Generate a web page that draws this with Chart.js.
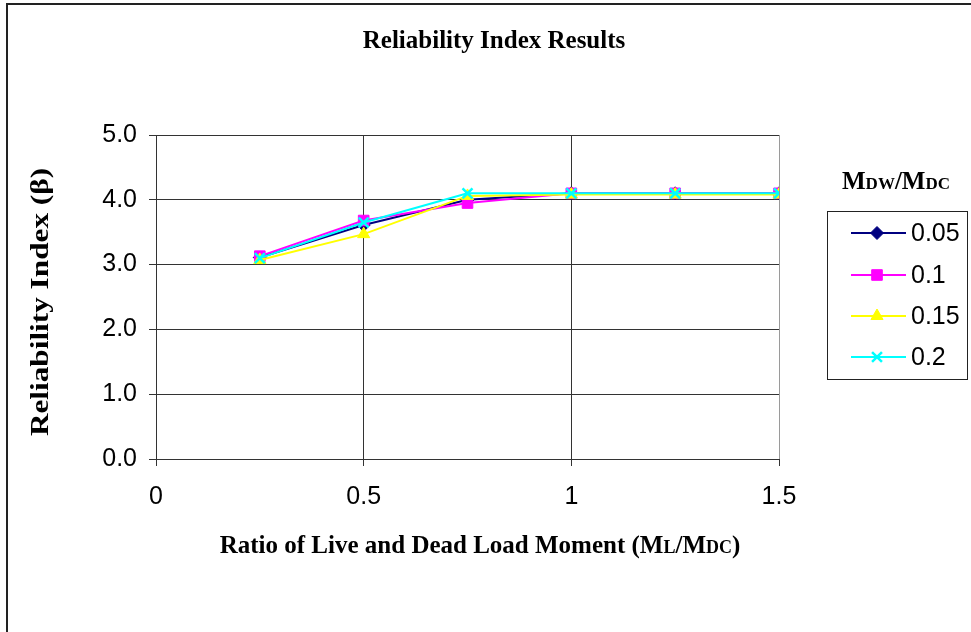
<!DOCTYPE html>
<html>
<head>
<meta charset="utf-8">
<script src="https://cdn.jsdelivr.net/npm/chart.js@4"></script>
<style>
  html, body { margin: 0; padding: 0; background: #fff; }
  canvas { display: block; }
</style>
</head>
<body>
<canvas id="grafico" width="971" height="632"></canvas>
<script>
// data
let ratios = [0.25, 0.5, 0.75, 1, 1.25, 1.5];
let beta005 = [3.11, 3.61, 4.00, 4.10, 4.10, 4.10];
let beta010 = [3.13, 3.68, 3.95, 4.10, 4.10, 4.10];
let beta015 = [3.07, 3.47, 4.06, 4.08, 4.08, 4.08];
let beta020 = [3.10, 3.65, 4.10, 4.10, 4.10, 4.10];
let seriesNames = ['0.05', '0.1', '0.15', '0.2'];
let xTicks = [0, 0.5, 1, 1.5];
let yTicks = [0, 1, 2, 3, 4, 5];

const serif = '"Liberation Serif", "Times New Roman", serif';
const sans = '"Liberation Sans", Arial, sans-serif';
const radios = {rectRot: 6.5, rect: 7.5, triangle: 7, crossRot: 7};

function pares(valores) {
    return ratios.map((r, i) => ({x: r, y: valores[i]}));
}

function serie(nombre, valores, color, estilo, orden) {
    return {
        label: nombre,
        data: pares(valores),
        borderColor: color,
        backgroundColor: color,
        borderWidth: 2,
        pointStyle: estilo,
        pointRadius: radios[estilo],
        pointBorderWidth: estilo === 'crossRot' ? 2.5 : 1,
        tension: 0,
        order: orden   // later series drawn on top, like the original
    };
}

// text with small-caps pieces: [text, size]
function textoMixto(ctx, partes, x, y, align) {
    let total = 0;
    partes.forEach(p => {
        ctx.font = 'bold ' + p[1] + 'px ' + serif;
        total += ctx.measureText(p[0]).width;
    });
    let cx = align === 'center' ? x - total / 2 : x;
    ctx.textAlign = 'left';
    partes.forEach(p => {
        ctx.font = 'bold ' + p[1] + 'px ' + serif;
        ctx.fillText(p[0], cx, y);
        cx += ctx.measureText(p[0]).width;
    });
}

const decorado = {
    id: 'decorado',
    afterDraw(chart) {
        const ctx = chart.ctx;
        ctx.save();
        // outer frame
        ctx.strokeStyle = '#222';
        ctx.lineWidth = 2;
        ctx.strokeRect(7, 4, 1000, 700);

        ctx.fillStyle = '#000';
        ctx.textBaseline = 'alphabetic';
        // title
        ctx.font = 'bold 25px ' + serif;
        ctx.textAlign = 'center';
        ctx.fillText('Reliability Index Results', 494, 48);

        // x title
        textoMixto(ctx, [['Ratio of Live and Dead Load Moment (M', 25], ['L', 18], ['/M', 25], ['DC', 18], [')', 25]], 480, 553, 'center');

        // y title
        ctx.save();
        ctx.translate(48, 302);
        ctx.rotate(-Math.PI / 2);
        ctx.scale(1.25, 1);
        ctx.font = 'bold 25px ' + serif;
        ctx.textAlign = 'center';
        ctx.fillText('Reliability Index (\u03b2)', 0, 0);
        ctx.restore();

        // legend title
        textoMixto(ctx, [['M', 25], ['DW', 17], ['/M', 25], ['DC', 17]], 896, 189, 'center');

        // legend box
        ctx.strokeStyle = '#222';
        ctx.lineWidth = 1;
        ctx.strokeRect(827.5, 211.5, 140, 168);
        const filas = [233, 275, 316, 357];
        chart.data.datasets.forEach((ds, i) => {
            const y = filas[i];
            ctx.strokeStyle = ds.borderColor;
            ctx.lineWidth = 2;
            ctx.beginPath();
            ctx.moveTo(851, y);
            ctx.lineTo(906, y);
            ctx.stroke();
            ctx.fillStyle = ds.backgroundColor;
            ctx.lineWidth = ds.pointBorderWidth;
            Chart.helpers.drawPoint(ctx, {pointStyle: ds.pointStyle, radius: ds.pointRadius, borderWidth: ds.pointBorderWidth, rotation: 0}, 877, y);
            ctx.fillStyle = '#000';
            ctx.font = '25px ' + sans;
            ctx.textAlign = 'left';
            ctx.textBaseline = 'middle';
            ctx.fillText(ds.label, 911, y + 1);
        });
        ctx.restore();
    }
};

let grafica = document.getElementById('grafico').getContext('2d');
let parametros = {
    type: 'line',
    data: {
        datasets: [
            serie(seriesNames[0], beta005, '#000080', 'rectRot', 3),
            serie(seriesNames[1], beta010, '#ff00ff', 'rect', 2),
            serie(seriesNames[2], beta015, '#ffff00', 'triangle', 1),
            serie(seriesNames[3], beta020, '#00ffff', 'crossRot', 0)
        ]
    },
    options: {
        responsive: false,
        animation: false,
        layout: {padding: {left: 0, top: 135, right: 192, bottom: 0}},
        plugins: {
            legend: {display: false},
            title: {display: false},
            tooltip: {enabled: false}
        },
        scales: {
            x: {
                type: 'linear',
                min: 0,
                max: 1.5,
                afterBuildTicks: s => { s.ticks = xTicks.map(v => ({value: v})); },
                afterFit: s => { s.height = 173; },
                ticks: {
                    color: '#000',
                    font: {family: sans, size: 25},
                    padding: 16,
                    maxRotation: 0,
                    callback: v => String(v)
                },
                grid: {
                    color: c => (c.tick && c.tick.value === 1.5) ? '#9a9a9a' : '#333',
                    lineWidth: 1,
                    tickLength: 7,
                    tickColor: '#333'
                },
                border: {color: '#333', width: 1}
            },
            y: {
                min: 0,
                max: 5,
                afterBuildTicks: s => { s.ticks = yTicks.map(v => ({value: v})); },
                afterFit: s => { s.width = 156; },
                ticks: {
                    color: '#000',
                    font: {family: sans, size: 25},
                    padding: 12,
                    callback: v => v.toFixed(1)
                },
                grid: {
                    color: '#333',
                    lineWidth: 1,
                    tickLength: 7,
                    tickColor: '#333'
                },
                border: {color: '#333', width: 1}
            }
        }
    },
    plugins: [decorado]
};
var resultados = new Chart(grafica, parametros);
</script>
</body>
</html>
